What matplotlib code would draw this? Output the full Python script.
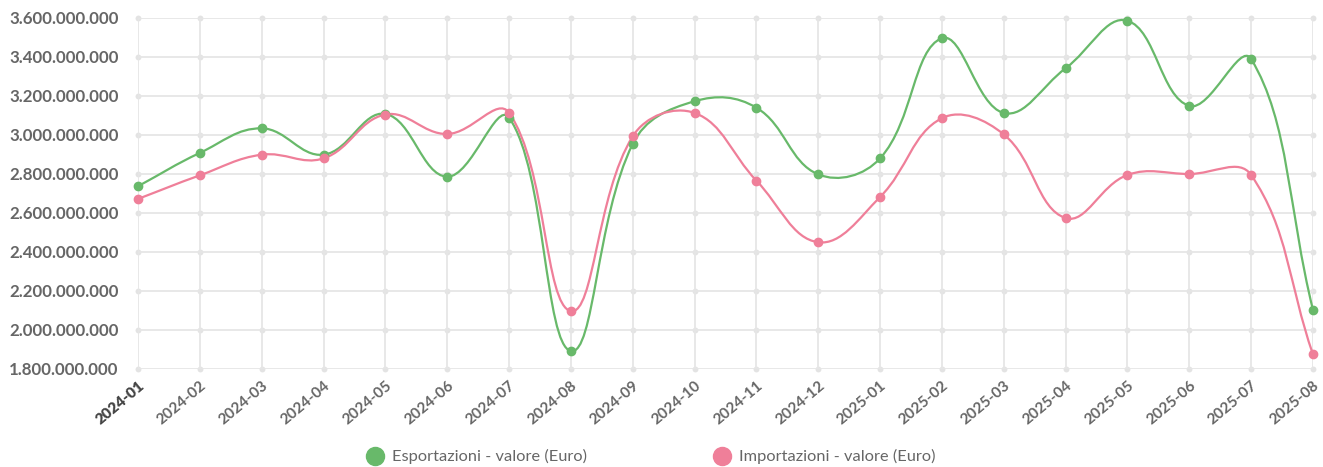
import matplotlib
matplotlib.use("Agg")
import matplotlib.pyplot as plt
from matplotlib.path import Path
from matplotlib.patches import PathPatch
from matplotlib.lines import Line2D
import numpy as np

plt.rcParams['font.family'] = ['Lato', 'DejaVu Sans']

months = ['2024-01', '2024-02', '2024-03', '2024-04', '2024-05', '2024-06', '2024-07',
          '2024-08', '2024-09', '2024-10', '2024-11', '2024-12', '2025-01', '2025-02',
          '2025-03', '2025-04', '2025-05', '2025-06', '2025-07', '2025-08']
esportazioni = [2.737e9, 2.908e9, 3.034e9, 2.899e9, 3.108e9, 2.786e9, 3.089e9,
                1.892e9, 2.954e9, 3.173e9, 3.140e9, 2.798e9, 2.880e9, 3.496e9,
                3.113e9, 3.342e9, 3.586e9, 3.149e9, 3.390e9, 2.104e9]
importazioni = [2.672e9, 2.793e9, 2.899e9, 2.880e9, 3.105e9, 3.005e9, 3.114e9,
                2.097e9, 2.993e9, 3.113e9, 2.766e9, 2.450e9, 2.682e9, 3.086e9,
                3.003e9, 2.574e9, 2.795e9, 2.800e9, 2.795e9, 1.875e9]
labels = ['Esportazioni - valore (Euro)', 'Importazioni - valore (Euro)']
colors = ['#68b96a', '#ef7f99']
y_ticks = np.arange(1.8e9, 3.61e9, 0.2e9)


def spline_path(ax, xs, ys, tension=0.4):
    # bezier control points like chart.js, computed in pixel space
    pts = ax.transData.transform(np.column_stack([xs, ys]))
    n = len(pts)
    cps_prev = [None] * n
    cps_next = [None] * n
    for i in range(n):
        p1 = pts[i]
        p0 = pts[i - 1] if i > 0 else p1
        p2 = pts[i + 1] if i < n - 1 else p1
        d01 = np.hypot(*(p1 - p0))
        d12 = np.hypot(*(p2 - p1))
        tot = d01 + d12
        fa = tension * d01 / tot if tot else 0
        fb = tension * d12 / tot if tot else 0
        cps_prev[i] = p1 - fa * (p2 - p0)
        cps_next[i] = p1 + fb * (p2 - p0)
    verts = [pts[0]]
    codes = [Path.MOVETO]
    for i in range(1, n):
        verts += [cps_next[i - 1], cps_prev[i], pts[i]]
        codes += [Path.CURVE4] * 3
    inv = ax.transData.inverted()
    return Path(inv.transform(np.array(verts)), codes)


fig = plt.figure(figsize=(13.23, 4.67), dpi=100)
ax = fig.add_axes([0.1043, 0.2099, 0.8881, 0.7516])
x = np.arange(len(months))
ax.set_xlim(0, len(months) - 1)
ax.set_ylim(1.8e9, 3.6e9)

ax.set_xticks(x)
ax.set_yticks(y_ticks)
ax.grid(True, color='#e6e6e6', linewidth=1.3, zorder=0)
gx, gy = np.meshgrid(x, y_ticks)
ax.scatter(gx.ravel(), gy.ravel(), s=18, color='#e3e3e3', zorder=1, clip_on=False, linewidths=0)
for s in ax.spines.values():
    s.set_visible(False)

for vals, c in zip([esportazioni, importazioni], colors):
    path = spline_path(ax, x, vals)
    ax.add_patch(PathPatch(path, facecolor='none', edgecolor=c, lw=1.6, zorder=3, clip_on=False))
    ax.plot(x, vals, 'o', color=c, ms=6, zorder=4, clip_on=False)

ax.yaxis.set_major_formatter(plt.FuncFormatter(lambda v, p: f'{v:,.0f}'.replace(',', '.')))
ax.tick_params(axis='y', length=0, pad=14, labelsize=12.2, labelcolor='#666666')
ax.tick_params(axis='x', length=0, pad=7, labelsize=11, labelcolor='#666666')
for lab in ax.get_yticklabels():
    lab.set_fontweight('bold')
ax.set_xticks(x)
ax.set_xticklabels(months, rotation=40, ha='right', rotation_mode='anchor', fontweight='bold')
ax.get_xticklabels()[0].set_color('#444444')
ax.get_xticklabels()[0].set_fontweight('heavy')

handles = [Line2D([], [], marker='o', ls='none', color=c, ms=13) for c in colors]
fig.legend(handles, labels, loc='center', bbox_to_anchor=(0.4915, 0.022), ncol=2, frameon=False,
           fontsize=11.8, labelcolor='#666666', handletextpad=0.45, columnspacing=7.6,
           borderaxespad=0, handlelength=1.2)

fig.savefig('out.png', dpi=100, facecolor='white')
